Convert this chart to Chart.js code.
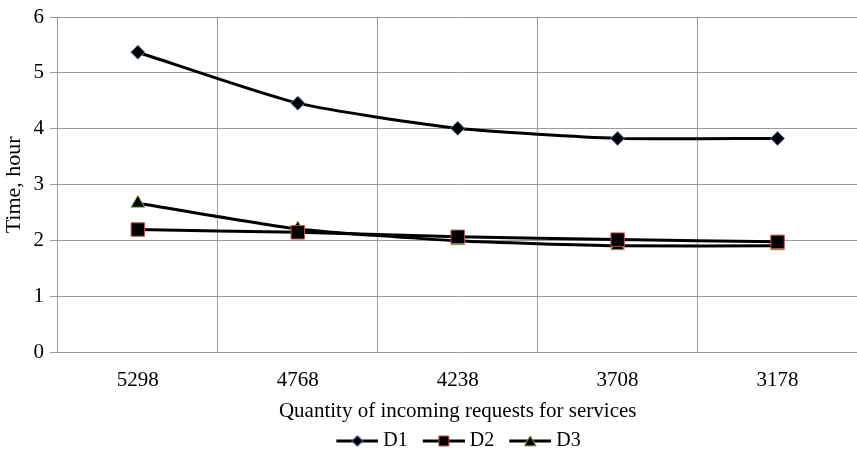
<!DOCTYPE html>
<html>
<head>
<meta charset="utf-8">
<script src="https://cdn.jsdelivr.net/npm/chart.js@4/dist/chart.umd.min.js"></script>
<style>
  html, body { margin: 0; padding: 0; background: #fff; overflow: hidden; }
  #wrap { position: relative; width: 868px; height: 449px; }
</style>
</head>
<body>
<div id="wrap"><canvas id="lineChart"></canvas></div>
<script>
// Dados do gráfico
const categories = ['5298', '4768', '4238', '3708', '3178'];
const d1Values = [5.37, 4.46, 4.01, 3.83, 3.83];
const d2Values = [2.2, 2.15, 2.07, 2.02, 1.98];
const d3Values = [2.67, 2.21, 2.0, 1.91, 1.91];
const seriesNames = ['D1', 'D2', 'D3'];

const serif = 'Liberation Serif, Times New Roman, serif';
const gridColor = '#9c9c9c';

// Ícones da legenda: linha + símbolo (com espaço vazio à esquerda)
function legendIcon(style, border) {
    const c = document.createElement('canvas');
    c.width = 62; c.height = 14;
    const g = c.getContext('2d');
    const x0 = 20, cx = x0 + 21;
    g.strokeStyle = '#000'; g.lineWidth = 3;
    g.beginPath(); g.moveTo(x0, 7); g.lineTo(x0 + 42, 7); g.stroke();
    g.fillStyle = '#000'; g.strokeStyle = border; g.lineWidth = 1;
    g.beginPath();
    if (style === 'rectRot') {
        g.moveTo(cx, 1.5); g.lineTo(cx + 5.5, 7); g.lineTo(cx, 12.5); g.lineTo(cx - 5.5, 7);
    } else if (style === 'rect') {
        g.rect(cx - 5, 2, 10, 10);
    } else {
        g.moveTo(cx, 1.5); g.lineTo(cx + 6, 12); g.lineTo(cx - 6, 12);
    }
    g.closePath(); g.fill(); g.stroke();
    return c;
}

const styles = ['rectRot', 'rect', 'triangle'];
const borders = ['#4f81bd', '#c0504d', '#9bbb59'];
const radii = [7, 9.5, 8];
const values = [d1Values, d2Values, d3Values];
const icons = styles.map((s, i) => legendIcon(s, borders[i]));

// Desloca a legenda um pouco para a direita, como no original
const legendShift = {
    id: 'legendShift',
    afterLayout(chart) {
        chart.legend.left += 19;
        chart.legend.right += 19;
    }
};

const ctx = document.getElementById('lineChart').getContext('2d');
const lineChart = new Chart(ctx, {
    type: 'line',
    data: {
        labels: categories,
        datasets: seriesNames.map((name, i) => ({
            label: name,
            data: values[i],
            borderColor: '#000',
            borderWidth: 3,
            tension: 0.2,
            pointStyle: styles[i],
            pointRadius: radii[i],
            pointBackgroundColor: '#000',
            pointBorderColor: borders[i],
            pointBorderWidth: 1
        }))
    },
    plugins: [legendShift],
    options: {
        responsive: true,
        maintainAspectRatio: false,
        animation: false,
        layout: { padding: { top: 17, right: 5, left: 1, bottom: -12 } },
        plugins: {
            tooltip: { enabled: false },
            legend: {
                position: 'bottom',
                labels: {
                    usePointStyle: true,
                    pointStyleWidth: 52,
                    color: '#000',
                    font: { family: serif, size: 20 },
                    boxHeight: 14,
                    padding: 0,
                    generateLabels: chart => chart.data.datasets.map((ds, i) => ({
                        text: ds.label,
                        pointStyle: icons[i],
                        datasetIndex: i,
                        fontColor: '#000',
                        lineWidth: 0,
                        strokeStyle: 'transparent',
                        fillStyle: 'transparent'
                    }))
                }
            }
        },
        scales: {
            x: {
                offset: true,
                grid: { offset: true, color: gridColor, drawTicks: false },
                border: { color: gridColor },
                ticks: { color: '#000', font: { family: serif, size: 21 }, padding: 15 },
                title: {
                    display: true,
                    text: 'Quantity of incoming requests for services',
                    color: '#000',
                    font: { family: serif, size: 21 },
                    padding: { top: -9, bottom: 7 }
                }
            },
            y: {
                min: 0, max: 6,
                afterFit: s => { s.paddingTop = 0; },
                grid: { color: gridColor, tickLength: 8 },
                border: { color: gridColor },
                ticks: { stepSize: 1, color: '#000', font: { family: serif, size: 21 }, padding: 6 },
                title: {
                    display: true,
                    text: 'Time, hour',
                    color: '#000',
                    font: { family: serif, size: 22 },
                    padding: { top: 0, bottom: 0 }
                }
            }
        }
    }
});
</script>
</body>
</html>
